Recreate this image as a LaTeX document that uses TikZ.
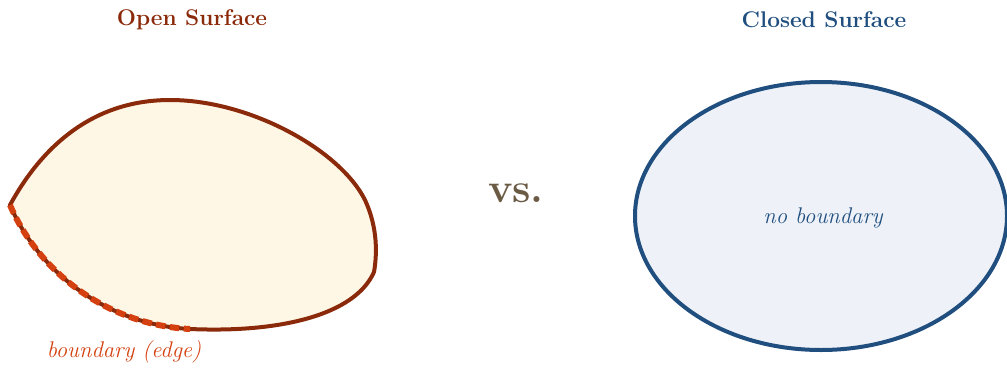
\documentclass[tikz,border=0pt]{standalone}
\usepackage{fontspec}
\definecolor{openc}{HTML}{8B2A0A}
\definecolor{openfill}{HTML}{FFF7E6}
\definecolor{edgec}{HTML}{D4400F}
\definecolor{closedc}{HTML}{1F4E7F}
\definecolor{closedfill}{HTML}{EEF2F8}
\definecolor{vsc}{HTML}{6B5B45}
\tikzset{
  titlelabel/.style={font=\fontsize{17}{19}\selectfont\bfseries, anchor=center, inner sep=0pt},
  itlabel/.style={font=\fontsize{17}{19}\selectfont\itshape, anchor=center, inner sep=0pt},
  surfline/.style={line width=3pt, line join=round},
  edgedash/.style={edgec, line width=4.5pt, dash pattern=on 7pt off 3.5pt}
}
\begin{document}
\begin{tikzpicture}[x=0.75pt,y=-0.75pt]
\useasboundingbox (0,0) rectangle (1007,368);
% open surface
\draw[surfline, draw=openc, fill=openfill]
  (10,205) .. controls (40,150) and (90,100) .. (170,100)
  .. controls (250,100) and (340,150) .. (365,200)
  .. controls (378,228) and (377,255) .. (374,272)
  .. controls (355,315) and (280,333) .. (190,329)
  .. controls (110,325) and (40,275) .. (10,205) -- cycle;
\draw[edgedash] (10,205) .. controls (40,275) and (110,325) .. (190,329);
% closed surface
\draw[surfline, draw=closedc, fill=closedfill] (821,216) ellipse [x radius=186, y radius=134];
% texts
\node[titlelabel, text=openc] (title1) at (192,20) {Open Surface};
\node[titlelabel, text=closedc] (title2) at (824,20) {Closed Surface};
\node[font=\fontsize{31}{34}\selectfont\bfseries, text=vsc, inner sep=0pt] (vs) at (516,193) {vs.};
\node[itlabel, text=closedc] (label2) at (823,218) {no boundary};
\node[itlabel, text=edgec] (label1) at (124,352) {boundary (edge)};
\end{tikzpicture}
\end{document}
